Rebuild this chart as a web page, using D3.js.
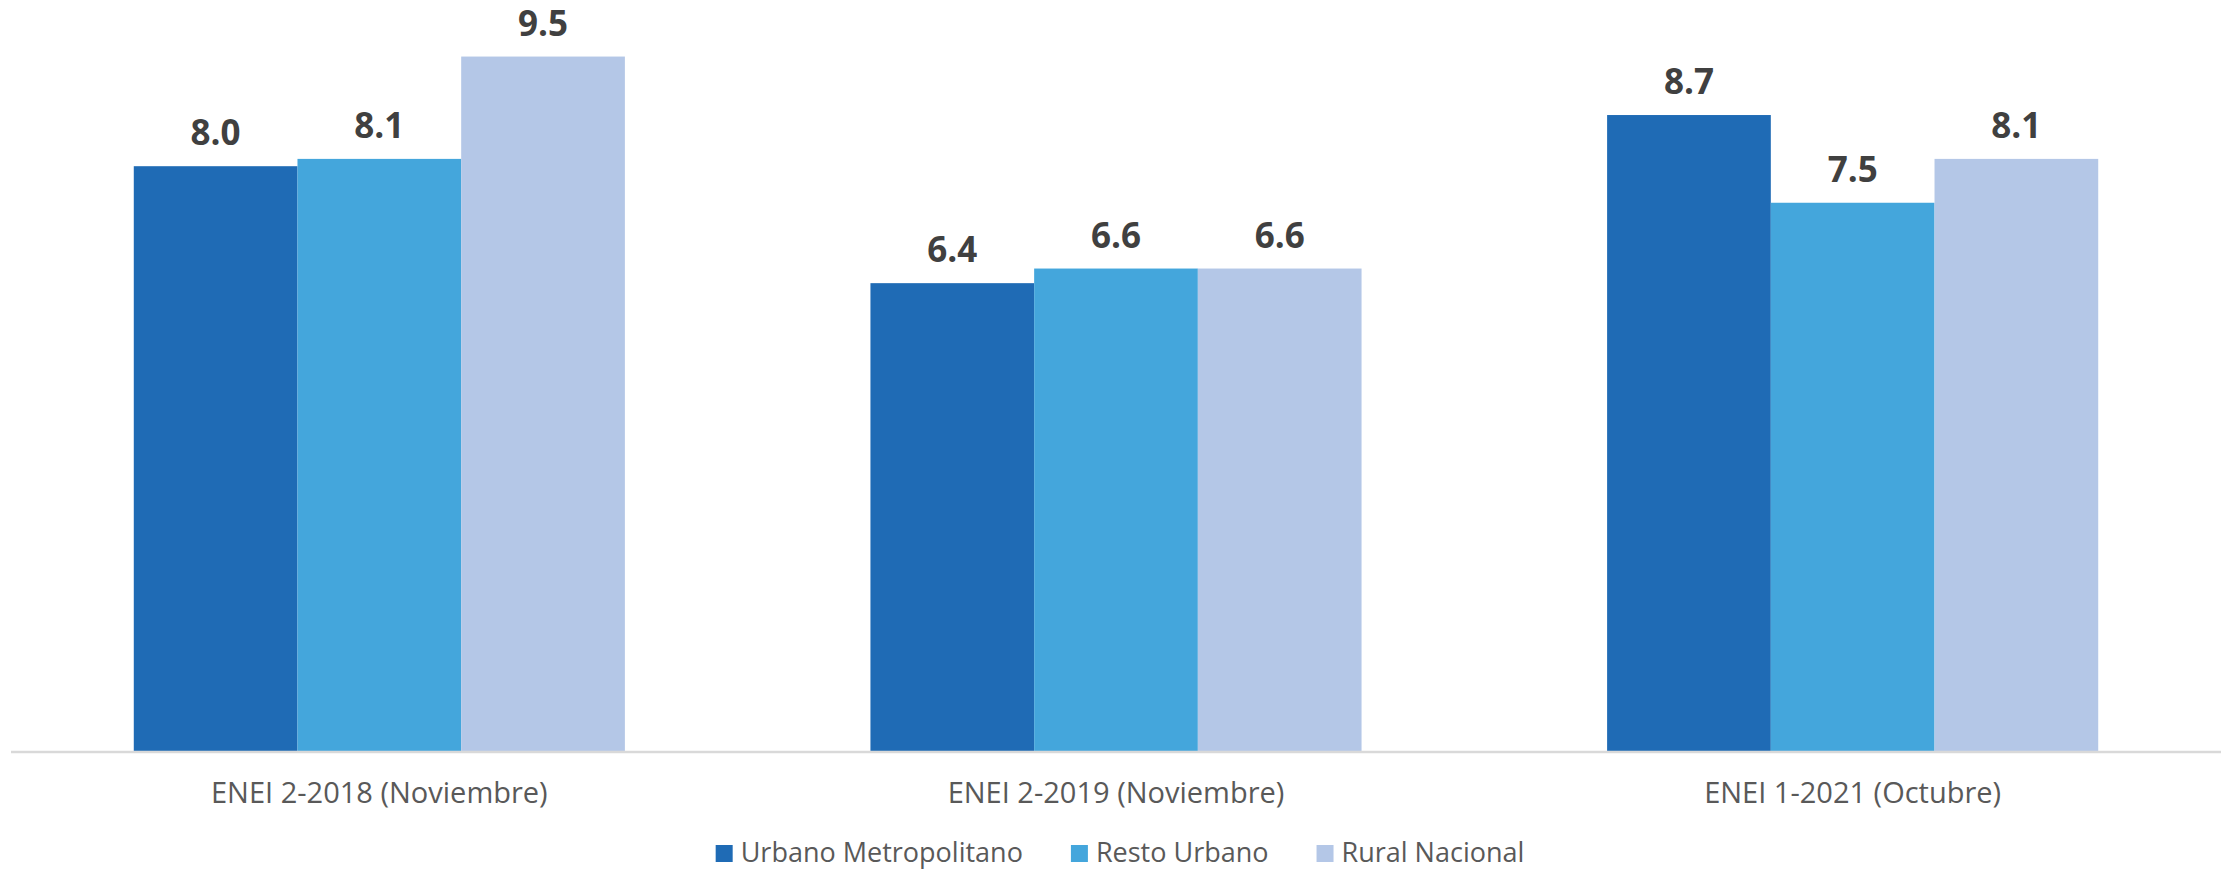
<!DOCTYPE html>
<html>
<head>
<meta charset="utf-8">
<script src="https://cdn.jsdelivr.net/npm/d3@7"></script>
<style>
  body { margin: 0; background: #fff; }
  svg { display: block; font-family: "Open Sans", sans-serif; }
</style>
</head>
<body>
<div id="chart"></div>
<script>
// Clustered columns, three survey rounds x three areas.
const categories = ["ENEI 2-2018 (Noviembre)", "ENEI 2-2019 (Noviembre)", "ENEI 1-2021 (Octubre)"];
const seriesNames = ["Urbano Metropolitano", "Resto Urbano", "Rural Nacional"];
const urbanoMetro = [8.0, 6.4, 8.7];
const restoUrbano = [8.1, 6.6, 7.5];
const ruralNacional = [9.5, 6.6, 8.1];
const colors = ["#1F6BB5", "#44A6DC", "#B4C7E7"];

const seriesValues = [urbanoMetro, restoUrbano, ruralNacional];
const rows = categories.map((c, i) => ({
  label: c,
  values: seriesNames.map((s, j) => ({ series: s, value: seriesValues[j][i], color: colors[j] }))
}));

const width = 2221;
const height = 871;
const baseY = 751;
const topY = 20;

const x0 = d3.scaleBand().domain(categories).range([11, width]).padding(0);
// gap width 150%: bars fill the middle two thirds of each band
const x1 = d3.scaleBand().domain(seriesNames)
  .range([x0.bandwidth() / 6, x0.bandwidth() * 5 / 6]).padding(0);
const y = d3.scaleLinear().domain([0, 10]).range([baseY, topY]);

const svg = d3.select("#chart").append("svg")
  .attr("width", width)
  .attr("height", height)
  .attr("viewBox", `0 0 ${width} ${height}`);

const group = svg.selectAll("g.cat")
  .data(rows)
  .join("g")
  .attr("class", "cat")
  .attr("transform", (d) => `translate(${x0(d.label)},0)`);

group.selectAll("rect")
  .data((d) => d.values)
  .join("rect")
  .attr("x", (d) => x1(d.series))
  .attr("y", (d) => y(d.value))
  .attr("width", x1.bandwidth())
  .attr("height", (d) => y(0) - y(d.value))
  .attr("fill", (d) => d.color);

group.selectAll("text.val")
  .data((d) => d.values)
  .join("text")
  .attr("class", "val")
  .attr("x", (d) => x1(d.series) + x1.bandwidth() / 2)
  .attr("y", (d) => y(d.value) - 21)
  .attr("text-anchor", "middle")
  .attr("fill", "#404040")
  .attr("font-size", 35)
  .attr("font-weight", 700)
  .text((d) => d.value.toFixed(1));

// baseline
svg.append("line")
  .attr("x1", 11)
  .attr("x2", width)
  .attr("y1", baseY + 1)
  .attr("y2", baseY + 1)
  .attr("stroke", "#D9D9D9")
  .attr("stroke-width", 2.5);

svg.selectAll("text.cat-label")
  .data(categories)
  .join("text")
  .attr("class", "cat-label")
  .attr("x", (d) => x0(d) + x0.bandwidth() / 2)
  .attr("y", 803)
  .attr("text-anchor", "middle")
  .attr("fill", "#595959")
  .attr("font-size", 29)
  .text((d) => d);

// legend, centred under the plot
const legend = svg.append("g");
const sq = 17;
const itemGap = 48;
let lx = 0;
seriesNames.forEach((name, i) => {
  const item = legend.append("g").attr("transform", `translate(${lx},0)`);
  item.append("rect")
    .attr("x", 0)
    .attr("y", 845)
    .attr("width", sq)
    .attr("height", sq)
    .attr("fill", colors[i]);
  const t = item.append("text")
    .attr("x", sq + 8)
    .attr("y", 862)
    .attr("fill", "#595959")
    .attr("font-size", 27)
    .text(name);
  lx += sq + 8 + t.node().getComputedTextLength() + itemGap;
});
const legendW = lx - itemGap;
legend.attr("transform", `translate(${1120 - legendW / 2},0)`);
</script>
</body>
</html>
